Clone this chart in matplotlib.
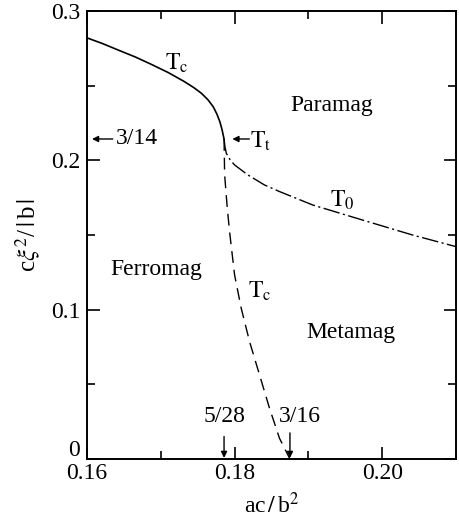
import matplotlib
matplotlib.use('Agg')
import matplotlib.pyplot as plt
from matplotlib.ticker import MultipleLocator, FixedLocator
from matplotlib.transforms import ScaledTranslation

plt.rcParams['font.family'] = ['Liberation Serif', 'DejaVu Serif']
plt.rcParams['mathtext.fontset'] = 'stix'

# Second-order Tc line (solid), ends at the tricritical point
tc_hi_x = [0.1600, 0.1621, 0.1642, 0.1665, 0.1687, 0.1710, 0.1732, 0.1745,
           0.1755, 0.1764, 0.1771, 0.1776, 0.1780, 0.1783, 0.17857]
tc_hi_y = [0.2820, 0.2782, 0.2739, 0.2693, 0.2643, 0.2588, 0.2527, 0.2486,
           0.2449, 0.2405, 0.2359, 0.2310, 0.2259, 0.2205, 0.2143]

# Metastable Tc line (dashed) down to 3/16
tc_lo_x = [0.17857, 0.17865, 0.17901, 0.17932, 0.18000, 0.18090, 0.18203,
           0.18338, 0.18473, 0.18608, 0.18750]
tc_lo_y = [0.2143, 0.1902, 0.1679, 0.1522, 0.1232, 0.1009, 0.0786,
           0.0563, 0.0340, 0.0139, 0.0000]

# First-order T0 line (dash-dot)
t0_x = [0.17857, 0.17870, 0.17888, 0.17940, 0.18000, 0.18180, 0.18405,
        0.18608, 0.19058, 0.19734, 0.20410, 0.21000]
t0_y = [0.2143, 0.2090, 0.2047, 0.2003, 0.1969, 0.1902, 0.1835,
        0.1791, 0.1701, 0.1600, 0.1500, 0.1422]

x_major = [0.16, 0.18, 0.20]
x_labels = ['0.16', '0.18', '0.20']
y_major = [0.0, 0.1, 0.2, 0.3]
y_labels = ['0', '0.1', '0.2', '0.3']

fs = 17

fig = plt.figure(figsize=(4.59, 5.18), dpi=100)
ax = fig.add_axes([0.1895, 0.1139, 0.804, 0.8649])

ax.plot(tc_hi_x, tc_hi_y, color='black', lw=1.2)
ax.plot(tc_lo_x, tc_lo_y, color='black', lw=1.0, dashes=(8.5, 5))
ax.plot(t0_x, t0_y, color='black', lw=1.0, dashes=(12, 2.5, 1.5, 2.5))

ax.set_xlim(0.16, 0.21)
ax.set_ylim(0.0, 0.3)
ax.xaxis.set_major_locator(FixedLocator(x_major))
ax.set_xticklabels(x_labels)
ax.xaxis.set_minor_locator(MultipleLocator(0.01))
ax.yaxis.set_major_locator(FixedLocator(y_major))
ax.set_yticklabels(y_labels)
ax.yaxis.set_minor_locator(MultipleLocator(0.05))
ax.tick_params(which='both', direction='in', top=True, right=True,
               labelsize=fs, width=1.2)
ax.tick_params(axis='x', pad=3)
ax.tick_params(axis='y', pad=5)
ax.tick_params(which='major', length=9)
ax.tick_params(which='minor', length=5.5)
for s in ax.spines.values():
    s.set_linewidth(1.4)

# lift the "0" label so it clears 0.16 below it
zero_lbl = ax.get_yticklabels()[0]
zero_lbl.set_transform(zero_lbl.get_transform() +
                       ScaledTranslation(0, 8 / 72, fig.dpi_scale_trans))

ax.set_xlabel(r'ac$\,/\,$b$^2$', fontsize=fs, va='center')
ax.xaxis.set_label_coords(0.5, -0.103)
ax.set_ylabel(r'c$\xi^2$/$\,|\,$b$\,|$', fontsize=18, va='center')
ax.yaxis.set_label_coords(-0.16, 0.5)

ax.text(0.1722, 0.265, r'$\mathrm{T_c}$', fontsize=fs, ha='center', va='center')
ax.text(0.1932, 0.237, 'Paramag', fontsize=fs, ha='center', va='center')
ax.text(0.1946, 0.1735, r'$\mathrm{T_0}$', fontsize=fs, ha='center', va='center')
ax.text(0.1694, 0.1266, 'Ferromag', fontsize=fs, ha='center', va='center')
ax.text(0.1834, 0.112, r'$\mathrm{T_c}$', fontsize=fs, ha='center', va='center')
ax.text(0.1958, 0.085, 'Metamag', fontsize=fs, ha='center', va='center')

arrow = dict(arrowstyle='-|>', color='black', lw=1.0, mutation_scale=9,
             shrinkA=0, shrinkB=0)

# 3/14 marker on the y axis
ax.annotate('', xy=(0.16068, 3 / 14), xytext=(0.16350, 3 / 14), arrowprops=arrow)
ax.text(0.16390, 3 / 14, '3/14', fontsize=fs, ha='left', va='center')

# tricritical point
ax.annotate('', xy=(0.17970, 3 / 14), xytext=(0.18200, 3 / 14), arrowprops=arrow)
ax.text(0.18215, 0.2130, r'$\mathrm{T_t}$', fontsize=fs, ha='left', va='center')

# 5/28 and 3/16 on the x axis
ax.annotate('', xy=(5 / 28, 0.0007), xytext=(5 / 28, 0.0150), arrowprops=arrow)
ax.text(0.1787, 0.0285, '5/28', fontsize=fs, ha='center', va='center')
ax.annotate('', xy=(3 / 16, 0.0007), xytext=(3 / 16, 0.0175), arrowprops=arrow)
ax.text(0.1888, 0.0285, '3/16', fontsize=fs, ha='center', va='center')

plt.savefig('out.png', dpi=100)
plt.close()
